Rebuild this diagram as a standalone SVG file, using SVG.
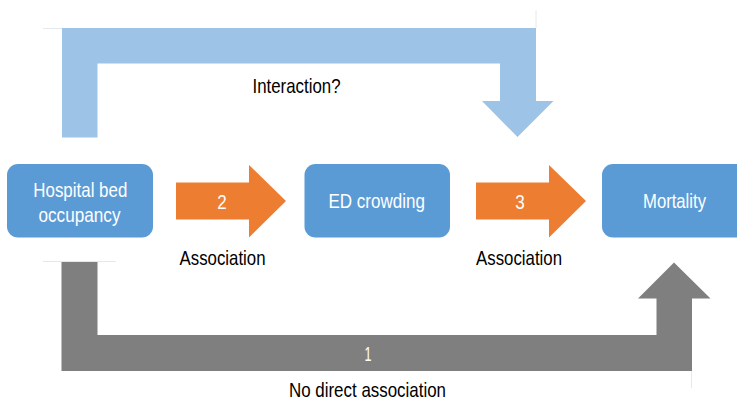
<svg xmlns="http://www.w3.org/2000/svg" width="737" height="402" viewBox="0 0 737 402">
<style>
.node{fill:#5B9BD5}
.nt{font-family:"Liberation Sans",Arial,sans-serif;font-size:21px;fill:#fff;text-anchor:middle}
.lbl{font-family:"Liberation Sans",Arial,sans-serif;font-size:21px;fill:#000;text-anchor:middle}
.faint{stroke:#e3e9f0;stroke-width:1;fill:none}
</style>
<rect width="737" height="402" fill="#fff"/>
<g id="connectors">
<path class="faint" d="M43 28.5H62M536 10V28M43 261.5H116M691.5 370V388"/>
<path id="interaction" fill="#9DC3E6" d="M62 137.5V28H536V101H553.5L517.5 137L482 101H500V63.5H97.5V137.5Z"/>
<path id="direct" fill="#7F7F7F" d="M61.5 262V371H692V298.5H710.5L674 262.5L638 298.5H656.5V335H97.5V262Z"/>
<path id="arrow2" fill="#ED7D31" d="M176 182.5H249V165L286 201L249 237.5V219.5H176Z"/>
<path id="arrow3" fill="#ED7D31" d="M476 182.5H549V165L586 201L549 237.5V219.5H476Z"/>
<text class="nt" x="222" y="208.5" textLength="9.5" lengthAdjust="spacingAndGlyphs">2</text>
<text class="nt" x="520" y="208.5" textLength="9.5" lengthAdjust="spacingAndGlyphs">3</text>
<text class="nt" x="368" y="361" textLength="7" lengthAdjust="spacingAndGlyphs">1</text>
<text class="lbl" x="296.5" y="92.5" textLength="88" lengthAdjust="spacingAndGlyphs">Interaction?</text>
<text class="lbl" x="222.5" y="264.5" textLength="86" lengthAdjust="spacingAndGlyphs">Association</text>
<text class="lbl" x="519" y="264.5" textLength="86" lengthAdjust="spacingAndGlyphs">Association</text>
<text class="lbl" x="367.5" y="396.5" textLength="157" lengthAdjust="spacingAndGlyphs">No direct association</text>
</g>
<g id="node-hospital">
<rect class="node" x="7" y="164" width="146" height="73.5" rx="11"/>
<text class="nt" x="80.3" y="196.7" textLength="94" lengthAdjust="spacingAndGlyphs">Hospital bed</text>
<text class="nt" x="79.5" y="221.5" textLength="82" lengthAdjust="spacingAndGlyphs">occupancy</text>
</g>
<g id="node-ed">
<rect class="node" x="304.5" y="164" width="145.5" height="73.5" rx="11"/>
<text class="nt" x="376.7" y="208.3" textLength="96.5" lengthAdjust="spacingAndGlyphs">ED crowding</text>
</g>
<g id="node-mortality">
<rect class="node" x="602" y="164" width="146" height="73.5" rx="11"/>
<text class="nt" x="674.5" y="208.3" textLength="63" lengthAdjust="spacingAndGlyphs">Mortality</text>
</g>
</svg>
